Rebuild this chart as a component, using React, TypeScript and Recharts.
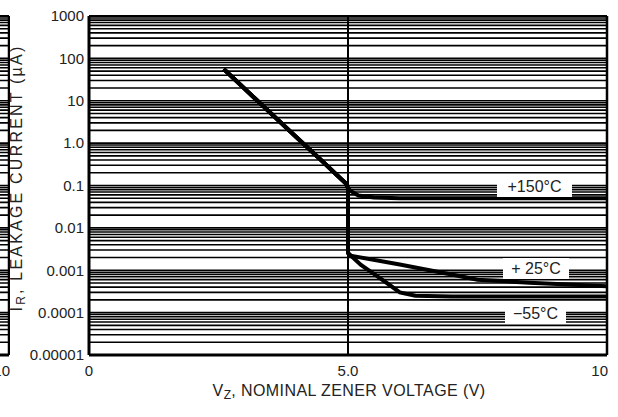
import { LineChart, Line, XAxis, YAxis, ReferenceLine } from "recharts";

const FONT = "'Liberation Sans', Arial, sans-serif";

const xTicks = [0, 5, 10];
const xTickLabels = ["0", "5.0", "10"];
const yTicks = [0.00001, 0.0001, 0.001, 0.01, 0.1, 1, 10, 100, 1000];
const yTickLabels = ["0.00001", "0.0001", "0.001", "0.01", "0.1", "1.0", "10", "100", "1000"];
const gridSteps = [1, 2, 3, 4, 5, 6, 7, 8, 9];

// shared knee below 5 V, then the three temperature branches
const commonV = [2.6, 3.0, 3.5, 4.0, 4.5, 4.8, 4.95, 5.0];
const commonI = [56, 19.4, 5.2, 1.4, 0.38, 0.17, 0.115, 0.087];
const hotV = [5.05, 5.2, 5.5, 6, 7, 10];
const hotI = [0.074, 0.058, 0.052, 0.05, 0.05, 0.05];
const roomV = [5.0, 5.05, 6, 7, 7.5, 8.5, 10];
const roomI = [0.00255, 0.0022, 0.00136, 0.00079, 0.0006, 0.00051, 0.00042];
const coldV = [5.0, 5.25, 5.5, 5.75, 6, 6.3, 7, 10];
const coldI = [0.00255, 0.00133, 0.00082, 0.0005, 0.0003, 0.00025, 0.00024, 0.00024];

const curveLabels = [
  { text: "+150°C", left: 497, top: 176, width: 75 },
  { text: "+ 25°C", left: 503, top: 258, width: 66 },
  { text: "\u221255°C", left: 505, top: 303, width: 61 },
];

const gridValues: number[] = [];
yTicks.slice(0, -1).forEach((d) => gridSteps.forEach((k) => gridValues.push(d * k)));

const toRows = (vs: number[], is: number[]) => vs.map((v, n) => ({ v, i: is[n] }));
const hot = toRows([...commonV, ...hotV], [...commonI, ...hotI]);
const room = toRows([...commonV, ...roomV], [...commonI, ...roomI]);
const cold = toRows([...commonV, ...coldV], [...commonI, ...coldI]);

const XTick = (props: any) => {
  const { x, y, payload, index } = props;
  const last = index === xTicks.length - 1;
  return (
    <text x={last ? x + 1 : x} y={y} dy="0.71em" textAnchor={last ? "end" : "middle"}
      fill="#222" fontSize={15} fontFamily={FONT}>
      {xTickLabels[xTicks.indexOf(payload.value)]}
    </text>
  );
};

const Plot = ({ curves }: { curves: boolean }) => (
  <LineChart width={618} height={417} margin={{ top: 16, right: 11, bottom: 0, left: 0 }}>
    <XAxis type="number" dataKey="v" domain={[0, 10]} ticks={xTicks} height={62}
      tickLine={false} tickSize={0} tickMargin={10} tick={<XTick />}
      axisLine={{ stroke: "#000", strokeWidth: 3 }} />
    <YAxis type="number" dataKey="i" scale="log" domain={[0.00001, 1000]} ticks={yTicks}
      allowDataOverflow width={89} tickLine={false} tickSize={0} tickMargin={5}
      tickFormatter={(v: number) => yTickLabels[yTicks.indexOf(v)] ?? ""}
      tick={{ fill: "#222", fontSize: 15, fontFamily: FONT }}
      axisLine={{ stroke: "#000", strokeWidth: 3 }} />
    {gridValues.map((g) => (
      <ReferenceLine key={g} y={g} stroke="#000" strokeWidth={1.6} />
    ))}
    <ReferenceLine y={1000} stroke="#000" strokeWidth={2} />
    <ReferenceLine x={5} stroke="#000" strokeWidth={2} />
    <ReferenceLine x={10} stroke="#000" strokeWidth={2.5} />
    {[hot, room, cold].map((d, n) => (
      <Line key={n} data={d} dataKey="i" type="linear" stroke={curves ? "#000" : "none"}
        strokeWidth={4} dot={false} isAnimationActive={false} />
    ))}
  </LineChart>
);

export default function App() {
  return (
    <div style={{ position: "absolute", left: 0, top: 0, width: 618, height: 417, background: "#fff", overflow: "hidden", fontFamily: FONT }}>
      <Plot curves />
      {/* edge of the neighbouring graph, cut off at the left */}
      <div style={{ position: "absolute", left: 0, top: 0, width: 10, height: 417, overflow: "hidden", background: "#fff" }}>
        <div style={{ position: "absolute", left: -598, top: 0, width: 618, height: 417 }}>
          <Plot curves={false} />
        </div>
      </div>
      {curveLabels.map((c) => (
        <div key={c.text} style={{ position: "absolute", left: c.left, top: c.top, width: c.width, height: 21,
          background: "#fff", color: "#222", fontSize: 16, lineHeight: "21px", textAlign: "center" }}>
          {c.text}
        </div>
      ))}
      <div style={{ position: "absolute", left: 149, top: 382, width: 400, textAlign: "center", fontSize: 16,
        letterSpacing: 0.4, color: "#222", whiteSpace: "nowrap" }}>
        V<sub style={{ fontSize: 12, verticalAlign: "-3px" }}>Z</sub>, NOMINAL ZENER VOLTAGE (V)
      </div>
      <div style={{ position: "absolute", left: 17 - 170, top: 178 - 10, width: 340, height: 20, lineHeight: "20px",
        textAlign: "center", fontSize: 16, letterSpacing: 2.2, color: "#222", whiteSpace: "nowrap", transform: "rotate(-90deg)" }}>
        I<sub style={{ fontSize: 12, verticalAlign: "-3px" }}>R</sub>, LEAKAGE CURRENT (µA)
      </div>
    </div>
  );
}
